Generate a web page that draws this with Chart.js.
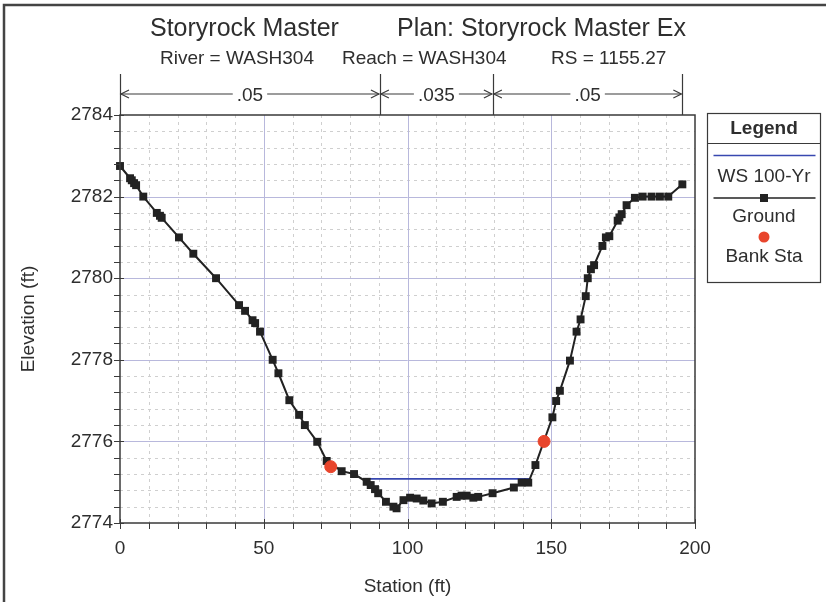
<!DOCTYPE html>
<html>
<head>
<meta charset="utf-8">
<script src="https://cdn.jsdelivr.net/npm/chart.js@4.4.1/dist/chart.umd.min.js"></script>
<style>
  body { margin: 0; background: #fff; }
  canvas { display: block; }
</style>
</head>
<body>
<canvas id="chart" width="826" height="602"></canvas>
<script>
// ground profile (station ft, elevation ft)
const groundStation = [0, 3.5, 4.1, 4.9, 5.6, 8.1, 12.8, 13.9, 14.5, 20.5, 25.5, 33.4, 41.4, 43.5, 46.1,
  47.0, 48.7, 53.1, 55.1, 58.9, 62.3, 64.3, 68.6, 71.9, 77.1, 81.4, 85.8, 87.2, 88.7, 89.8,
  92.5, 95.1, 96.2, 98.6, 100.9, 103.2, 105.5, 108.4, 112.3, 117.1, 118.8, 120.6, 122.9, 124.6, 129.6,
  137.0, 139.7, 142.0, 144.5, 150.4, 151.7, 153.0, 156.5, 158.8, 160.2, 162.0, 162.7, 163.8, 164.9, 167.8,
  169.0, 170.2, 173.1, 173.7, 174.5, 176.2, 179.1, 181.8, 184.9, 187.8, 190.7, 195.6];
const groundElevation = [2782.75, 2782.45, 2782.4, 2782.33, 2782.28, 2782.0, 2781.6, 2781.53, 2781.48, 2781.0,
  2780.6, 2780.0, 2779.34, 2779.2, 2778.97, 2778.9, 2778.69, 2778.0, 2777.67, 2777.01,
  2776.65, 2776.4, 2775.99, 2775.52, 2775.27, 2775.2, 2775.01, 2774.93, 2774.83, 2774.73,
  2774.52, 2774.4, 2774.36, 2774.56, 2774.62, 2774.6, 2774.55, 2774.48, 2774.52, 2774.64,
  2774.67, 2774.67, 2774.62, 2774.64, 2774.73, 2774.87, 2774.99, 2774.99, 2775.42, 2776.59,
  2776.99, 2777.24, 2777.98, 2778.69, 2778.99, 2779.56, 2780.0, 2780.22, 2780.32, 2780.79,
  2781.0, 2781.03, 2781.41, 2781.49, 2781.57, 2781.79, 2781.97, 2782.0, 2782.0, 2782.0,
  2782.0, 2782.3];

const wsStation = [85.2, 142.6];
const wsElevation = [2775.08, 2775.08];

const bankStation = [73.3, 147.5];
const bankElevation = [2775.38, 2776.0];

// manning's n regions along the top
const nBreaks = [0, 90.4, 129.7, 195.6];
const nValues = ['.05', '.035', '.05'];

const FONT = '"Liberation Sans", Arial, sans-serif';
const TEXT = '#2e2e2e';

function points(xs, ys) {
  return xs.map((x, i) => ({ x, y: ys[i] }));
}

function arrowHead(ctx, x, y, dir) {
  ctx.beginPath();
  ctx.moveTo(x - dir * 8, y - 4);
  ctx.lineTo(x, y);
  ctx.lineTo(x - dir * 8, y + 4);
  ctx.stroke();
}

const decorPlugin = {
  id: 'decor',
  beforeDatasetsDraw(chart) {
    const { ctx, chartArea: a, scales: { x, y } } = chart;
    ctx.save();
    // minor grid
    ctx.strokeStyle = '#cfcfcf';
    ctx.lineWidth = 1;
    ctx.setLineDash([3, 4]);
    for (let v = 10; v < 200; v += 10) {
      if (v % 50 === 0) continue;
      const px = Math.round(x.getPixelForValue(v)) + 0.5;
      ctx.beginPath(); ctx.moveTo(px, a.top); ctx.lineTo(px, a.bottom); ctx.stroke();
    }
    for (let i = 1; i < 25; i++) {
      if (i % 5 === 0) continue;
      const py = Math.round(y.getPixelForValue(2774 + i * 0.4)) + 0.5;
      ctx.beginPath(); ctx.moveTo(a.left, py); ctx.lineTo(a.right, py); ctx.stroke();
    }
    // major grid
    ctx.setLineDash([]);
    ctx.strokeStyle = '#b8b8dc';
    for (let v = 50; v < 200; v += 50) {
      const px = Math.round(x.getPixelForValue(v)) + 0.5;
      ctx.beginPath(); ctx.moveTo(px, a.top); ctx.lineTo(px, a.bottom); ctx.stroke();
    }
    for (let v = 2776; v < 2784; v += 2) {
      const py = Math.round(y.getPixelForValue(v)) + 0.5;
      ctx.beginPath(); ctx.moveTo(a.left, py); ctx.lineTo(a.right, py); ctx.stroke();
    }
    ctx.restore();
  },
  afterDraw(chart) {
    const { ctx, chartArea: a, scales: { x, y } } = chart;
    ctx.save();

    // plot frame and tick marks
    ctx.strokeStyle = '#3a3a3a';
    ctx.lineWidth = 1.5;
    ctx.strokeRect(a.left, a.top, a.right - a.left, a.bottom - a.top);
    ctx.lineWidth = 1;
    for (let v = 0; v <= 200; v += 10) {
      const px = Math.round(x.getPixelForValue(v)) + 0.5;
      const major = v % 50 === 0;
      ctx.beginPath();
      ctx.moveTo(px, a.bottom - (major ? 4 : 0));
      ctx.lineTo(px, a.bottom + 6);
      ctx.stroke();
    }
    for (let i = 0; i <= 25; i++) {
      const py = Math.round(y.getPixelForValue(2774 + i * 0.4)) + 0.5;
      const major = i % 5 === 0;
      ctx.beginPath();
      ctx.moveTo(a.left - 6, py);
      ctx.lineTo(a.left + (major ? 4 : 0), py);
      ctx.stroke();
    }

    // titles
    ctx.fillStyle = TEXT;
    ctx.textBaseline = 'middle';
    ctx.textAlign = 'left';
    ctx.font = `25px ${FONT}`;
    ctx.fillText('Storyrock Master', 150, 29);
    ctx.fillText('Plan: Storyrock Master Ex', 397, 29);
    ctx.font = `19px ${FONT}`;
    ctx.fillText('River = WASH304', 160, 59);
    ctx.fillText('Reach = WASH304', 342, 59);
    ctx.fillText('RS = 1155.27', 551, 59);

    // axis titles
    ctx.textAlign = 'center';
    ctx.fillText('Station (ft)', (a.left + a.right) / 2, 587);
    ctx.save();
    ctx.translate(29, (a.top + a.bottom) / 2);
    ctx.rotate(-Math.PI / 2);
    ctx.fillText('Elevation (ft)', 0, 0);
    ctx.restore();

    // n-value annotation
    const arrowY = 94;
    ctx.strokeStyle = '#3a3a3a';
    ctx.lineWidth = 1.2;
    nBreaks.forEach((s) => {
      const px = Math.round(x.getPixelForValue(s)) + 0.5;
      ctx.beginPath(); ctx.moveTo(px, 74); ctx.lineTo(px, a.top); ctx.stroke();
    });
    nValues.forEach((label, i) => {
      const x0 = x.getPixelForValue(nBreaks[i]) + 1;
      const x1 = x.getPixelForValue(nBreaks[i + 1]) - 1;
      const mid = (x0 + x1) / 2;
      const half = ctx.measureText(label).width / 2 + 4;
      ctx.beginPath();
      ctx.moveTo(x0, arrowY); ctx.lineTo(mid - half, arrowY);
      ctx.moveTo(mid + half, arrowY); ctx.lineTo(x1, arrowY);
      ctx.stroke();
      arrowHead(ctx, x0, arrowY, -1);
      arrowHead(ctx, x1, arrowY, 1);
      ctx.fillText(label, mid, arrowY + 2);
    });

    // legend box
    const lx = 707.5, lr = 820.5, lt = 113.5, lb = 282.5;
    const lc = (lx + lr) / 2;
    ctx.strokeStyle = '#3a3a3a';
    ctx.lineWidth = 1.2;
    ctx.strokeRect(lx, lt, lr - lx, lb - lt);
    ctx.beginPath(); ctx.moveTo(lx, 143.5); ctx.lineTo(lr, 143.5); ctx.stroke();
    ctx.font = `bold 19px ${FONT}`;
    ctx.fillText('Legend', lc, 129);
    ctx.font = `19px ${FONT}`;
    ctx.strokeStyle = '#3848b0';
    ctx.lineWidth = 1.5;
    ctx.beginPath(); ctx.moveTo(lx + 6, 155.5); ctx.lineTo(lr - 5, 155.5); ctx.stroke();
    ctx.fillText('WS 100-Yr', lc, 177);
    ctx.strokeStyle = '#222';
    ctx.beginPath(); ctx.moveTo(lx + 6, 198); ctx.lineTo(lr - 5, 198); ctx.stroke();
    ctx.fillStyle = '#222';
    ctx.fillRect(lc - 4, 194, 8, 8);
    ctx.fillStyle = TEXT;
    ctx.fillText('Ground', lc, 217);
    ctx.fillStyle = '#e8452c';
    ctx.beginPath(); ctx.arc(lc, 237, 5.5, 0, Math.PI * 2); ctx.fill();
    ctx.fillStyle = TEXT;
    ctx.fillText('Bank Sta', lc, 257);

    // outer page frame (top and left edges)
    ctx.strokeStyle = '#444';
    ctx.lineWidth = 2.5;
    ctx.beginPath();
    ctx.moveTo(4, 602); ctx.lineTo(4, 5); ctx.lineTo(826, 5);
    ctx.stroke();

    ctx.restore();
  }
};

new Chart(document.getElementById('chart'), {
  type: 'scatter',
  data: {
    datasets: [
      {
        label: 'Bank Sta',
        data: points(bankStation, bankElevation),
        backgroundColor: '#e8452c',
        borderColor: '#e8452c',
        pointRadius: 6,
        showLine: false,
        clip: false,
        order: 0
      },
      {
        label: 'Ground',
        data: points(groundStation, groundElevation),
        borderColor: '#222',
        backgroundColor: '#222',
        borderWidth: 2,
        pointStyle: 'rect',
        pointRadius: 5.6,
        pointBorderWidth: 0,
        showLine: true,
        clip: false,
        order: 1
      },
      {
        label: 'WS 100-Yr',
        data: points(wsStation, wsElevation),
        borderColor: '#3848b0',
        borderWidth: 1.8,
        pointRadius: 0,
        showLine: true,
        order: 2
      }
    ]
  },
  options: {
    responsive: false,
    animation: false,
    layout: { padding: { left: 0, top: 115, right: 131, bottom: 0 } },
    plugins: {
      legend: { display: false },
      tooltip: { enabled: false }
    },
    scales: {
      x: {
        type: 'linear',
        min: 0,
        max: 200,
        grid: { display: false, drawTicks: false },
        border: { display: false },
        ticks: {
          stepSize: 50, padding: 14, color: TEXT, font: { family: FONT, size: 19 },
          callback: (v) => String(v)
        },
        afterFit(scale) { scale.height = 79; }
      },
      y: {
        type: 'linear',
        min: 2774,
        max: 2784,
        grid: { display: false, drawTicks: false },
        border: { display: false },
        ticks: {
          stepSize: 2, padding: 7, color: TEXT, font: { family: FONT, size: 19 },
          callback: (v) => String(v)
        },
        afterFit(scale) { scale.width = 120; }
      }
    }
  },
  plugins: [decorPlugin]
});
</script>
</body>
</html>
